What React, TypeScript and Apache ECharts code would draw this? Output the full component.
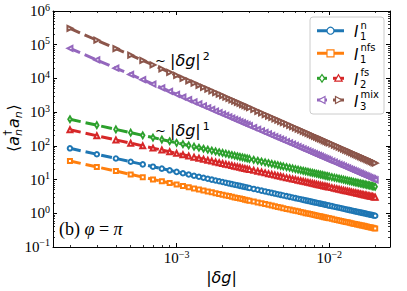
import React, { useEffect, useRef } from "react";
import * as echarts from "echarts";

// |δg| grid (same for every curve)
const X_DG = [
  0.0002, 0.0003, 0.0004, 0.0005, 0.0006, 0.0007, 0.0008, 0.0009, 0.001,
  0.0011, 0.0012, 0.0013, 0.0014, 0.0015, 0.0016, 0.0017, 0.0018, 0.0019, 0.002,
  0.0021, 0.0022, 0.0023, 0.0024, 0.0025, 0.0026, 0.0027, 0.0028, 0.0029, 0.003,
  0.0032, 0.0034, 0.0036, 0.0038, 0.004, 0.0042, 0.0044, 0.0046, 0.0048, 0.005,
  0.00525, 0.0055, 0.00575, 0.006, 0.00625, 0.0065, 0.00675, 0.007, 0.00725, 0.0075,
  0.00775, 0.008, 0.00825, 0.0085, 0.00875, 0.009, 0.00925, 0.0095, 0.00975, 0.01,
  0.0104, 0.0108, 0.0112, 0.0116, 0.012, 0.0124, 0.0128, 0.0132, 0.0136, 0.014,
  0.0144, 0.0148, 0.0152, 0.0156, 0.016, 0.0164, 0.0168, 0.0172, 0.0176, 0.018,
  0.0184, 0.0188, 0.0192, 0.0196, 0.02,
];

const Y_I1N = [
  84.5, 56.3, 42.3, 33.8, 28.2, 24.1, 21.1, 18.8, 16.9,
  15.4, 14.1, 13.0, 12.1, 11.3, 10.6, 9.94, 9.39, 8.89, 8.45,
  8.05, 7.68, 7.35, 7.04, 6.76, 6.5, 6.26, 6.04, 5.83, 5.63,
  5.28, 4.97, 4.69, 4.45, 4.23, 4.02, 3.84, 3.67, 3.52, 3.38,
  3.22, 3.07, 2.94, 2.82, 2.7, 2.6, 2.5, 2.41, 2.33, 2.25,
  2.18, 2.11, 2.05, 1.99, 1.93, 1.88, 1.83, 1.78, 1.73, 1.69,
  1.63, 1.56, 1.51, 1.46, 1.41, 1.36, 1.32, 1.28, 1.24, 1.21,
  1.17, 1.14, 1.11, 1.08, 1.06, 1.03, 1.01, 0.983, 0.96, 0.939,
  0.918, 0.899, 0.88, 0.862, 0.845,
];

const Y_I1NFS = [
  35.5, 23.7, 17.8, 14.2, 11.8, 10.1, 8.88, 7.89, 7.1,
  6.45, 5.92, 5.46, 5.07, 4.73, 4.44, 4.18, 3.94, 3.74, 3.55,
  3.38, 3.23, 3.09, 2.96, 2.84, 2.73, 2.63, 2.54, 2.45, 2.37,
  2.22, 2.09, 1.97, 1.87, 1.78, 1.69, 1.61, 1.54, 1.48, 1.42,
  1.35, 1.29, 1.23, 1.18, 1.14, 1.09, 1.05, 1.01, 0.979, 0.947,
  0.916, 0.888, 0.861, 0.835, 0.811, 0.789, 0.768, 0.747, 0.728, 0.71,
  0.683, 0.657, 0.634, 0.612, 0.592, 0.573, 0.555, 0.538, 0.522, 0.507,
  0.493, 0.48, 0.467, 0.455, 0.444, 0.433, 0.423, 0.413, 0.403, 0.394,
  0.386, 0.378, 0.37, 0.362, 0.355,
];

const Y_I2FS_A = [
  615, 410, 308, 246, 205, 176, 154, 137, 123,
  112, 103, 94.6, 87.9, 82.0, 76.9, 72.4, 68.3, 64.7, 61.5,
  58.6, 55.9, 53.5, 51.3, 49.2, 47.3, 45.6, 43.9, 42.4, 41.0,
  38.4, 36.2, 34.2, 32.4, 30.8, 29.3, 28.0, 26.7, 25.6, 24.6,
  23.4, 22.4, 21.4, 20.5, 19.7, 18.9, 18.2, 17.6, 17.0, 16.4,
  15.9, 15.4, 14.9, 14.5, 14.1, 13.7, 13.3, 12.9, 12.6, 12.3,
  11.8, 11.4, 11.0, 10.6, 10.3, 9.92, 9.61, 9.32, 9.04, 8.79,
  8.54, 8.31, 8.09, 7.88, 7.69, 7.5, 7.32, 7.15, 6.99, 6.83,
  6.68, 6.54, 6.41, 6.28, 6.15,
];

const Y_I2FS_B = [
  300, 200, 150, 120, 100, 85.7, 75.0, 66.7, 60.0,
  54.5, 50.0, 46.2, 42.9, 40.0, 37.5, 35.3, 33.3, 31.6, 30.0,
  28.6, 27.3, 26.1, 25.0, 24.0, 23.1, 22.2, 21.4, 20.7, 20.0,
  18.8, 17.6, 16.7, 15.8, 15.0, 14.3, 13.6, 13.0, 12.5, 12.0,
  11.4, 10.9, 10.4, 10.0, 9.6, 9.23, 8.89, 8.57, 8.28, 8.0,
  7.74, 7.5, 7.27, 7.06, 6.86, 6.67, 6.49, 6.32, 6.15, 6.0,
  5.77, 5.56, 5.36, 5.17, 5.0, 4.84, 4.69, 4.55, 4.41, 4.29,
  4.17, 4.05, 3.95, 3.85, 3.75, 3.66, 3.57, 3.49, 3.41, 3.33,
  3.26, 3.19, 3.13, 3.06, 3.0,
];

const Y_I3MIX_A = [
  78000, 35400, 20200, 13100, 9160, 6780, 5220, 4150, 3380,
  2810, 2370, 2030, 1750, 1530, 1350, 1200, 1070, 967, 875,
  796, 727, 666, 613, 566, 524, 487, 454, 424, 397,
  350, 311, 278, 250, 226, 206, 188, 172, 159, 147,
  133, 122, 112, 103, 94.9, 87.8, 81.6, 76.1, 71.0, 66.5,
  62.4, 58.6, 55.2, 52.1, 49.2, 46.6, 44.2, 41.9, 39.9, 37.9,
  35.1, 32.7, 30.4, 28.4, 26.6, 24.9, 23.4, 22.1, 20.8, 19.7,
  18.6, 17.7, 16.8, 15.9, 15.2, 14.5, 13.8, 13.2, 12.6, 12.1,
  11.5, 11.1, 10.6, 10.2, 9.82,
];

const Y_I3MIX_B = [
  307000, 136000, 76800, 49100, 34100, 25100, 19200, 15200, 12300,
  10100, 8530, 7270, 6270, 5460, 4800, 4250, 3790, 3400, 3070,
  2780, 2540, 2320, 2130, 1960, 1820, 1680, 1570, 1460, 1360,
  1200, 1060, 948, 850, 768, 696, 634, 580, 533, 491,
  446, 406, 371, 341, 314, 291, 270, 251, 234, 218,
  204, 192, 180, 170, 160, 152, 144, 136, 129, 123,
  114, 105, 97.9, 91.3, 85.3, 79.9, 75.0, 70.5, 66.4, 62.7,
  59.2, 56.1, 53.2, 50.5, 48.0, 45.7, 43.5, 41.5, 39.6, 37.9,
  36.3, 34.7, 33.3, 32.0, 30.7,
];

const X_MAJOR = [0.001, 0.01];
const X_MINOR = [
  0.0002, 0.0003, 0.0004, 0.0005, 0.0006, 0.0007, 0.0008, 0.0009,
  0.002, 0.003, 0.004, 0.005, 0.006, 0.007, 0.008, 0.009, 0.02,
];
const Y_MAJOR = [0.1, 1, 10, 100, 1000, 10000, 100000, 1000000];
const Y_MINOR = [
  0.2, 0.3, 0.4, 0.5, 0.6, 0.7, 0.8, 0.9,
  2, 3, 4, 5, 6, 7, 8, 9,
  20, 30, 40, 50, 60, 70, 80, 90,
  200, 300, 400, 500, 600, 700, 800, 900,
  2000, 3000, 4000, 5000, 6000, 7000, 8000, 9000,
  20000, 30000, 40000, 50000, 60000, 70000, 80000, 90000,
  200000, 300000, 400000, 500000, 600000, 700000, 800000, 900000,
];

const X_MIN = 0.0001549;
const X_MAX = 0.025;
const Y_MIN = 0.0999;
const Y_MAX = 1001000;

const COLORS = ["#1f77b4", "#ff7f0e", "#2ca02c", "#d62728", "#9467bd", "#8c564b"];

const SERIF = "Liberation Serif";
const SANS = "DejaVu Sans";

const powLabel = (v: number) => {
  const e = Math.round(Math.log10(v));
  const s = e < 0 ? "\u2212" + Math.abs(e) : String(e);
  return `{b|10}{s|${s}}`;
};

const tickRich = {
  b: { fontFamily: SERIF, fontSize: 15, color: "#000", lineHeight: 18 },
  s: { fontFamily: SERIF, fontSize: 10, color: "#000", lineHeight: 7, verticalAlign: "top" },
};

function makeAxes(kind: "x" | "y") {
  const isX = kind === "x";
  const base = {
    type: "log",
    logBase: 10,
    min: isX ? X_MIN : Y_MIN,
    max: isX ? X_MAX : Y_MAX,
    splitLine: { show: false },
    minorTick: { show: false },
    minorSplitLine: { show: false },
  };
  const positions = isX ? ["bottom", "top"] : ["left", "right"];
  const majors = isX ? X_MAJOR : Y_MAJOR;
  const minors = isX ? X_MINOR : Y_MINOR;
  const axes: any[] = [];
  positions.forEach((pos, pi) => {
    axes.push({
      ...base,
      position: pos,
      axisLine: { show: true, onZero: false, lineStyle: { color: "#000", width: 1 } },
      axisTick: {
        show: true,
        inside: true,
        length: 4,
        lineStyle: { color: "#000", width: 1 },
        customValues: majors,
      },
      axisLabel:
        pi === 0
          ? {
              show: true,
              customValues: majors,
              formatter: powLabel,
              rich: tickRich,
              margin: isX ? 2 : 3,
              color: "#000",
            }
          : { show: false },
    });
    axes.push({
      ...base,
      position: pos,
      axisLine: { show: false, onZero: false },
      axisTick: {
        show: true,
        inside: true,
        length: 2,
        lineStyle: { color: "#000", width: 0.8 },
        customValues: minors,
      },
      axisLabel: { show: false },
    });
  });
  return axes;
}

const SERIES_DEF = [
  { y: Y_I1N, color: COLORS[0], symbol: "emptyCircle", size: 4.5, rot: 0 },
  { y: Y_I1NFS, color: COLORS[1], symbol: "emptyRect", size: 4, rot: 0 },
  { y: Y_I2FS_A, color: COLORS[2], symbol: "emptyDiamond", size: [3.5, 6], rot: 0 },
  { y: Y_I2FS_B, color: COLORS[3], symbol: "emptyTriangle", size: 5, rot: 0 },
  { y: Y_I3MIX_A, color: COLORS[4], symbol: "emptyTriangle", size: 5, rot: 90 },
  { y: Y_I3MIX_B, color: COLORS[5], symbol: "emptyTriangle", size: 5, rot: -90 },
];

const LEGEND_Y = [30.7, 53.3, 78.3, 100];
const LEGEND_SUP = ["n", "nfs", "fs", "mix"];
const LEGEND_SUB = ["1", "1", "2", "3"];

function legendGraphics() {
  const g: any[] = [];
  g.push({
    type: "rect",
    shape: { x: 310, y: 17, width: 74, height: 97, r: 3 },
    style: { fill: "rgba(255,255,255,0.8)", stroke: "#cccccc", lineWidth: 1 },
    z: 100,
  });
  const z = 101;
  [0, 1].forEach((i) => {
    const y = LEGEND_Y[i];
    g.push({
      type: "line",
      shape: { x1: 317, y1: y, x2: 344, y2: y },
      style: { stroke: COLORS[i], lineWidth: 3, lineDash: [11, 5] },
      z,
    });
  });
  g.push({
    type: "circle",
    shape: { cx: 330.5, cy: LEGEND_Y[0], r: 3.5 },
    style: { fill: "#fff", stroke: COLORS[0], lineWidth: 1.2 },
    z: z + 1,
  });
  g.push({
    type: "rect",
    shape: { x: 327, y: LEGEND_Y[1] - 3.5, width: 7, height: 7 },
    style: { fill: "#fff", stroke: COLORS[1], lineWidth: 1.2 },
    z: z + 1,
  });
  [2, 3].forEach((row) => {
    const y = LEGEND_Y[row];
    const cA = row === 2 ? COLORS[2] : COLORS[4];
    const cB = row === 2 ? COLORS[3] : COLORS[5];
    g.push({ type: "line", shape: { x1: 317, y1: y, x2: 327, y2: y }, style: { stroke: cA, lineWidth: 3 }, z });
    g.push({ type: "line", shape: { x1: 333, y1: y, x2: 344, y2: y }, style: { stroke: cB, lineWidth: 3 }, z });
  });
  const y3 = LEGEND_Y[2];
  g.push({
    type: "polygon",
    shape: { points: [[322, y3 - 3.8], [324.6, y3], [322, y3 + 3.8], [319.4, y3]] },
    style: { fill: "#fff", stroke: COLORS[2], lineWidth: 1.2 },
    z: z + 1,
  });
  g.push({
    type: "polygon",
    shape: { points: [[338.5, y3 - 3.5], [342.2, y3 + 2.8], [334.8, y3 + 2.8]] },
    style: { fill: "#fff", stroke: COLORS[3], lineWidth: 1.2 },
    z: z + 1,
  });
  const y4 = LEGEND_Y[3];
  g.push({
    type: "polygon",
    shape: { points: [[318.5, y4], [325, y4 - 3.6], [325, y4 + 3.6]] },
    style: { fill: "#fff", stroke: COLORS[4], lineWidth: 1.2 },
    z: z + 1,
  });
  g.push({
    type: "polygon",
    shape: { points: [[342, y4], [335.5, y4 - 3.6], [335.5, y4 + 3.6]] },
    style: { fill: "#fff", stroke: COLORS[5], lineWidth: 1.2 },
    z: z + 1,
  });
  LEGEND_Y.forEach((y, i) => {
    g.push({
      type: "text",
      x: 354,
      y: y + 1.5,
      style: { text: "I", fontFamily: SANS, fontStyle: "italic", fontSize: 15, fill: "#000", align: "left", verticalAlign: "middle" },
      z: z + 2,
    });
    g.push({
      type: "text",
      x: 360.5,
      y: y - 5.5,
      style: { text: LEGEND_SUP[i], fontFamily: SANS, fontSize: 10, fill: "#000", align: "left", verticalAlign: "middle" },
      z: z + 2,
    });
    g.push({
      type: "text",
      x: 360,
      y: y + 6,
      style: { text: LEGEND_SUB[i], fontFamily: SANS, fontSize: 10, fill: "#000", align: "left", verticalAlign: "middle" },
      z: z + 2,
    });
  });
  return g;
}

const mathRich = {
  n: { fontFamily: SANS, fontSize: 16, lineHeight: 18, color: "#000" },
  t: { fontFamily: SANS, fontSize: 13, lineHeight: 18, color: "#000" },
  i: { fontFamily: SANS, fontStyle: "italic", fontSize: 16, lineHeight: 18, color: "#000" },
  s: { fontFamily: SANS, fontSize: 11, lineHeight: 8, verticalAlign: "top", color: "#000", padding: [0, 0, 0, 2] },
};

function textGraphics() {
  const g: any[] = [];
  g.push({
    type: "text",
    x: 155,
    y: 60,
    style: { text: "{t|~ }{n||}{i|\u03b4g}{n||}{s|2}", rich: mathRich, align: "left", verticalAlign: "middle" },
    z: 50,
  });
  g.push({
    type: "text",
    x: 155,
    y: 130,
    style: { text: "{t|~ }{n||}{i|\u03b4g}{n||}{s|1}", rich: mathRich, align: "left", verticalAlign: "middle" },
    z: 50,
  });
  g.push({
    type: "text",
    x: 221.5,
    y: 277,
    style: { text: "{n||}{i|\u03b4g}{n||}", rich: mathRich, align: "center", verticalAlign: "middle" },
  });
  g.push({
    type: "text",
    x: 59,
    y: 229,
    style: {
      text: "{a|(b) }{b|\u03c6}{a| = }{b|\u03c0}",
      rich: {
        a: { fontFamily: SERIF, fontSize: 18, lineHeight: 20, color: "#000" },
        b: { fontFamily: SERIF, fontStyle: "italic", fontSize: 18, lineHeight: 20, color: "#000" },
      },
      align: "left",
      verticalAlign: "middle",
    },
    z: 50,
  });
  const t = (x: number, y: number, text: string, size: number, italic: boolean) => ({
    type: "text",
    x,
    y,
    style: {
      text,
      fontFamily: SANS,
      fontSize: size,
      fontStyle: italic ? "italic" : "normal",
      fill: "#000",
      align: "left",
      verticalAlign: "middle",
    },
  });
  g.push({
    type: "group",
    x: 13,
    y: 128,
    rotation: Math.PI / 2,
    children: [
      t(-24, 0, "\u27e8", 16, false),
      t(-17.8, 0, "a", 16, true),
      t(-7.6, -6, "\u2020", 11, false),
      t(-8, 5, "n", 11, true),
      t(0, 0, "a", 16, true),
      t(9.8, 5, "n", 11, true),
      t(17.5, 0, "\u27e9", 16, false),
    ],
  });
  return g;
}

export default function App() {
  const ref = useRef<HTMLDivElement>(null);
  useEffect(() => {
    document.body.style.margin = "0";
    if (!ref.current) return;
    const chart = echarts.init(ref.current, undefined, { renderer: "svg" });
    const option: any = {
      animation: false,
      backgroundColor: "#fff",
      grid: { left: 53, right: 17, top: 11, bottom: 44, containLabel: false },
      xAxis: makeAxes("x"),
      yAxis: makeAxes("y"),
      series: SERIES_DEF.map((s) => ({
        type: "line",
        xAxisIndex: 0,
        yAxisIndex: 0,
        data: X_DG.map((x, i) => [x, s.y[i]]),
        symbol: s.symbol,
        symbolSize: s.size,
        symbolRotate: s.rot,
        showAllSymbol: true,
        silent: true,
        lineStyle: { color: s.color, width: 3, type: [11, 5] },
        itemStyle: { color: s.color, borderColor: s.color, borderWidth: 1 },
        emphasis: { disabled: true },
      })),
      graphic: [...legendGraphics(), ...textGraphics()],
    };
    chart.setOption(option);
    return () => chart.dispose();
  }, []);
  return (
    <div
      ref={ref}
      style={{ position: "fixed", left: 0, top: 0, width: 407, height: 291 }}
    />
  );
}
